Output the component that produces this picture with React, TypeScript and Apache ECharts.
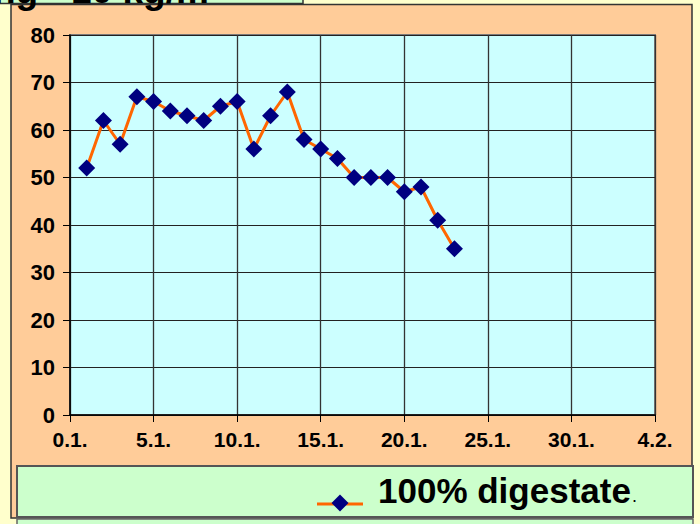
import React, { useEffect, useRef } from "react";
import * as echarts from "echarts";

const seriesName = "100% digestate";
const days = [1, 2, 3, 4, 5, 6, 7, 8, 9, 10, 11, 12, 13, 14, 15, 16, 17, 18, 19, 20, 21, 22, 23];
const values = [52, 62, 57, 67, 66, 64, 63, 62, 65, 66, 56, 63, 68, 58, 56, 54, 50, 50, 50, 47, 48, 41, 35];
const xTickLabels = ["0.1.", "5.1.", "10.1.", "15.1.", "20.1.", "25.1.", "30.1.", "4.2."];
const titleFragment = "ng - 10 kg/m";

const FONT = "'Liberation Sans', Arial, sans-serif";

export default function App() {
  const ref = useRef<HTMLDivElement>(null);
  useEffect(() => {
    if (!ref.current) return;
    const chart = echarts.init(ref.current, undefined, { renderer: "svg" });
    const data = days.map((d, i) => [d, values[i]]);
    chart.setOption({
      animation: false,
      backgroundColor: "#FFFFCC",
      textStyle: { fontFamily: FONT },
      grid: {
        left: 70,
        top: 35,
        right: 45,
        bottom: 109,
        show: true,
        backgroundColor: "#CCFFFF",
        borderColor: "#7a7a7a",
        borderWidth: 2,
      },
      xAxis: {
        type: "value",
        min: 0,
        max: 35,
        interval: 5,
        axisLine: { show: true, onZero: false, lineStyle: { color: "#000", width: 1.5 } },
        axisTick: { show: true, length: 7, lineStyle: { color: "#000", width: 1 } },
        splitLine: { show: true, lineStyle: { color: "#333", width: 1.3 } },
        axisLabel: {
          margin: 14,
          color: "#000",
          fontSize: 21,
          fontWeight: "bold",
          fontFamily: FONT,
          formatter: (v: number) => xTickLabels[Math.round(v / 5)] ?? "",
        },
      },
      yAxis: {
        type: "value",
        min: 0,
        max: 80,
        interval: 10,
        axisLine: { show: true, lineStyle: { color: "#000", width: 1.5 } },
        axisTick: { show: true, length: 7, lineStyle: { color: "#000", width: 1 } },
        splitLine: { show: true, lineStyle: { color: "#222", width: 1.2 } },
        axisLabel: {
          margin: 15,
          color: "#000",
          fontSize: 22,
          fontWeight: "bold",
          fontFamily: FONT,
        },
      },
      series: [
        {
          name: seriesName,
          type: "line",
          data,
          symbol: "diamond",
          symbolSize: 17,
          itemStyle: { color: "#000080" },
          lineStyle: { color: "#FF6600", width: 3 },
          z: 3,
        },
      ],
      graphic: [
        {
          type: "rect",
          z: -10,
          shape: { x: 11, y: 4.5, width: 681, height: 513.5 },
          style: { fill: "#FFCC99", stroke: "#333", lineWidth: 1.5 },
        },
        {
          type: "rect",
          z: -10,
          shape: { x: -5, y: -10, width: 308, height: 13.5 },
          style: { fill: "#CCFFCC", stroke: "#333", lineWidth: 1.5 },
        },
        {
          type: "rect",
          z: 10,
          shape: { x: 17, y: 519, width: 676, height: 20 },
          style: { fill: "#CCFFCC", stroke: "#666", lineWidth: 1.5 },
        },
        {
          type: "rect",
          z: 10,
          shape: { x: 17, y: 466, width: 676, height: 51 },
          style: { fill: "#CCFFCC", stroke: "#555", lineWidth: 2 },
        },
        {
          type: "line",
          z: 11,
          shape: { x1: 317, y1: 504, x2: 363, y2: 504 },
          style: { stroke: "#FF6600", lineWidth: 3 },
        },
        {
          type: "polygon",
          z: 12,
          shape: { points: [[340, 494.5], [348.5, 503], [340, 511.5], [331.5, 503]] },
          style: { fill: "#000080" },
        },
        {
          type: "text",
          z: 12,
          x: 378,
          y: 490,
          style: {
            text: seriesName,
            fill: "#000",
            fontSize: 35,
            fontWeight: "bold",
            fontFamily: FONT,
            verticalAlign: "middle",
          },
        },
        {
          type: "text",
          z: 12,
          x: 632,
          y: 496,
          style: {
            text: ".",
            fill: "#000",
            fontSize: 18,
            fontFamily: FONT,
            verticalAlign: "middle",
          },
        },
        {
          type: "text",
          z: 20,
          x: -7,
          y: -10,
          style: {
            text: titleFragment,
            fill: "#000",
            fontSize: 37,
            fontWeight: "bold",
            fontFamily: FONT,
            verticalAlign: "middle",
          },
        },
      ],
    });
    return () => chart.dispose();
  }, []);
  return (
    <div
      ref={ref}
      style={{ position: "absolute", left: 0, top: 0, width: 700, height: 524 }}
    />
  );
}
